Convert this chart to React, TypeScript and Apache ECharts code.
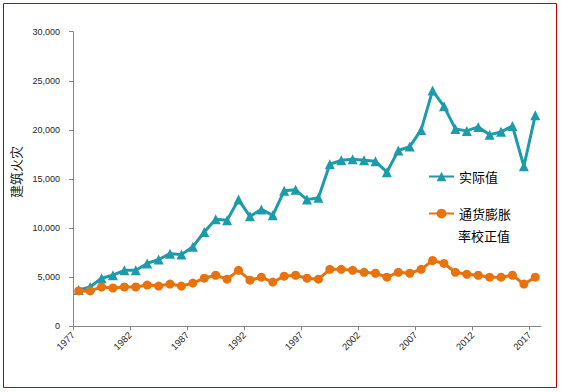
import React, { useEffect, useRef } from "react";
import * as echarts from "echarts";

const years: string[] = [];
for (let y = 1977; y <= 2017; y++) years.push(String(y));

const actual = [
  3700, 4000, 4900, 5200, 5700, 5700, 6400, 6800, 7400, 7300,
  8100, 9600, 10900, 10800, 12900, 11200, 11900, 11300, 13800, 13900,
  12900, 13100, 16500, 16900, 17000, 16900, 16800, 15700, 17900, 18300,
  20000, 24000, 22400, 20100, 19900, 20300, 19500, 19800, 20400, 16300,
  21500,
];

const adjusted = [
  3600, 3600, 4000, 3900, 4000, 4000, 4200, 4100, 4300, 4100,
  4400, 4900, 5200, 4800, 5700, 4700, 5000, 4500, 5100, 5200,
  4900, 4800, 5800, 5800, 5700, 5500, 5400, 5000, 5500, 5400,
  5800, 6700, 6400, 5500, 5300, 5200, 5000, 5000, 5200, 4300,
  5000,
];

const tickYears = ["1977", "1982", "1987", "1992", "1997", "2002", "2007", "2012", "2017"];
const yTicks = [0, 5000, 10000, 15000, 20000, 25000, 30000];

const TEAL = "#1c9bab";
const ORANGE = "#e8720c";
const AXIS = "#878787";
const FONT = "'Noto Sans CJK SC', 'Liberation Sans', sans-serif";

export default function App() {
  const ref = useRef<HTMLDivElement>(null);
  useEffect(() => {
    document.body.style.margin = "0";
    const chart = echarts.init(ref.current!, null, { renderer: "svg" });
    const tickPos = tickYears.map((t) => years.indexOf(t));
    const option: any = {
      animation: false,
      backgroundColor: "#ffffff",
      grid: { left: 73, top: 31.7, right: 20, bottom: 65.7, containLabel: false },
      xAxis: {
        type: "value",
        min: 0,
        max: years.length,
        axisLine: { show: true, lineStyle: { color: AXIS, width: 1 } },
        axisTick: { show: true, length: 4, lineStyle: { color: AXIS }, customValues: tickPos },
        axisLabel: {
          customValues: tickPos,
          rotate: 45,
          margin: 7,
          fontSize: 9.5,
          color: "#262626",
          fontFamily: "'Liberation Sans', sans-serif",
          formatter: (v: number) => years[Math.round(v)] ?? "",
        },
        splitLine: { show: false },
      },
      yAxis: {
        type: "value",
        min: 0,
        max: 30000,
        interval: 5000,
        name: "建筑火灾",
        nameLocation: "middle",
        nameGap: 39,
        nameTextStyle: { fontSize: 13, color: "#1a1a1a", fontFamily: FONT, padding: [0, 0, 0, 14] },
        axisLine: { show: true, lineStyle: { color: AXIS, width: 1 } },
        axisTick: { show: true, length: 4, lineStyle: { color: AXIS } },
        axisLabel: {
          margin: 13,
          fontSize: 9,
          color: "#262626",
          fontFamily: "'Liberation Sans', sans-serif",
          formatter: (v: number) => (yTicks.includes(v) ? v.toLocaleString("en-US") : ""),
        },
        splitLine: { show: false },
      },
      legend: [
        {
          data: ["实际值"],
          orient: "vertical",
          left: 428,
          top: 170,
          padding: 0,
          itemWidth: 25,
          itemHeight: 12,
          textStyle: { fontSize: 13, color: "#000", fontFamily: FONT },
        },
        {
          data: ["通货膨胀率校正值"],
          orient: "vertical",
          left: 428,
          top: 207,
          padding: 0,
          itemWidth: 25,
          itemHeight: 12,
          formatter: () => "通货膨胀",
          textStyle: { fontSize: 13, color: "#000", fontFamily: FONT },
        },
      ],
      graphic: [
        {
          type: "text",
          left: 458,
          top: 229,
          style: { text: "率校正值", fontSize: 13, fill: "#000", fontFamily: FONT },
        },
        {
          type: "rect",
          shape: { x: 3.5, y: 3.5, width: 553, height: 384 },
          style: { fill: "none", stroke: "#c00000", lineWidth: 1 },
        },
      ],
      series: [
        {
          name: "实际值",
          type: "line",
          data: actual.map((v, i) => [i + 0.5, v]),
          symbol: "triangle",
          symbolSize: 10,
          showAllSymbol: true,
          lineStyle: { color: TEAL, width: 3 },
          itemStyle: { color: TEAL },
        },
        {
          name: "通货膨胀率校正值",
          type: "line",
          data: adjusted.map((v, i) => [i + 0.5, v]),
          symbol: "circle",
          symbolSize: 9,
          showAllSymbol: true,
          lineStyle: { color: ORANGE, width: 3 },
          itemStyle: { color: ORANGE },
        },
      ],
    };
    chart.setOption(option);
    return () => chart.dispose();
  }, []);
  return (
    <div
      ref={ref}
      style={{ position: "absolute", left: 0, top: 0, width: 561, height: 392 }}
    />
  );
}
